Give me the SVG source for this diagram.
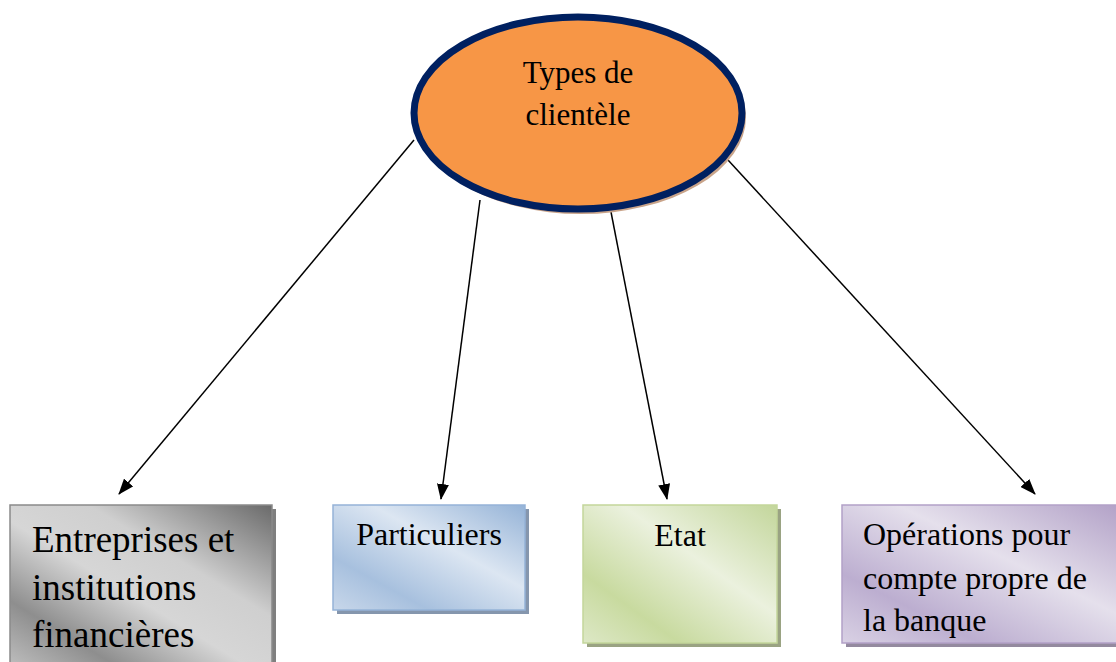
<svg xmlns="http://www.w3.org/2000/svg" width="1116" height="662" viewBox="0 0 1116 662">
<defs>
<style>
.t{font-family:"Liberation Serif","Times New Roman",serif;fill:#000}
.c{stroke:#000;stroke-width:1.5;fill:none;marker-end:url(#ah)}
</style>
<marker id="ah" viewBox="0 0 16 12" refX="15" refY="6" markerWidth="16" markerHeight="12" orient="auto" markerUnits="userSpaceOnUse">
<path d="M0,0 L16,6 L0,12 z" fill="#000"/>
</marker>
<linearGradient id="g1" x1="1" y1="0" x2="0" y2="1">
<stop offset="0" stop-color="#6a6a6a"/>
<stop offset="0.35" stop-color="#cfcfcf"/>
<stop offset="0.55" stop-color="#d6d6d6"/>
<stop offset="0.8" stop-color="#8e8e8e"/>
<stop offset="1" stop-color="#bdbdbd"/>
</linearGradient>
<linearGradient id="g2" x1="1" y1="0" x2="0" y2="1">
<stop offset="0" stop-color="#95b3d7"/>
<stop offset="0.4" stop-color="#dce6f2"/>
<stop offset="0.75" stop-color="#a7c0de"/>
<stop offset="1" stop-color="#c8d7ea"/>
</linearGradient>
<linearGradient id="g3" x1="1" y1="0" x2="0" y2="1">
<stop offset="0" stop-color="#c3d69b"/>
<stop offset="0.4" stop-color="#ebf1de"/>
<stop offset="0.75" stop-color="#c8da9f"/>
<stop offset="1" stop-color="#dde8c6"/>
</linearGradient>
<linearGradient id="g4" x1="1" y1="0" x2="0" y2="1">
<stop offset="0" stop-color="#b2a1c7"/>
<stop offset="0.4" stop-color="#e5e0ec"/>
<stop offset="0.75" stop-color="#bcaed0"/>
<stop offset="1" stop-color="#d9d1e4"/>
</linearGradient>
</defs>
<rect width="1116" height="662" fill="#fff"/>
<g id="connectors">
<line class="c" x1="414" y1="140" x2="119" y2="494"/>
<line class="c" x1="480" y1="200" x2="441" y2="499"/>
<line class="c" x1="611" y1="212" x2="667" y2="499"/>
<line class="c" x1="728" y1="160" x2="1035" y2="494"/>
</g>
<g id="center">
<ellipse cx="581" cy="117" rx="165" ry="97" fill="#c9a48a"/>
<ellipse cx="578" cy="113" rx="164" ry="96" fill="#f79646" stroke="#002060" stroke-width="7"/>
<text class="t" x="578" y="83" font-size="31" text-anchor="middle">Types de</text>
<text class="t" x="578" y="125" font-size="31" text-anchor="middle">clientèle</text>
</g>
<g id="n1">
<rect x="14" y="509" width="262" height="160" fill="#7f7f7f"/>
<rect x="10" y="505" width="262" height="160" fill="url(#g1)" stroke="#8a8a8a" stroke-width="1.5"/>
<text class="t" x="32" y="552" font-size="37">Entreprises et</text>
<text class="t" x="32" y="600" font-size="37">institutions</text>
<text class="t" x="32" y="647" font-size="37">financières</text>
</g>
<g id="n2">
<rect x="337" y="509" width="192" height="105" fill="#8596ad"/>
<rect x="333" y="505" width="192" height="105" fill="url(#g2)" stroke="#95b3d7" stroke-width="1.5"/>
<text class="t" x="429" y="545" font-size="32" text-anchor="middle">Particuliers</text>
</g>
<g id="n3">
<rect x="587" y="509" width="194" height="138" fill="#9aa383"/>
<rect x="583" y="505" width="194" height="138" fill="url(#g3)" stroke="#c3d69b" stroke-width="1.5"/>
<text class="t" x="680" y="546" font-size="32" text-anchor="middle">Etat</text>
</g>
<g id="n4">
<rect x="846" y="509" width="274" height="138" fill="#948a9f"/>
<rect x="842" y="505" width="278" height="138" fill="url(#g4)" stroke="#b2a1c7" stroke-width="1.5"/>
<text class="t" x="863" y="545" font-size="32">Opérations pour</text>
<text class="t" x="863" y="589" font-size="32">compte propre de</text>
<text class="t" x="863" y="631" font-size="32">la banque</text>
</g>
</svg>
